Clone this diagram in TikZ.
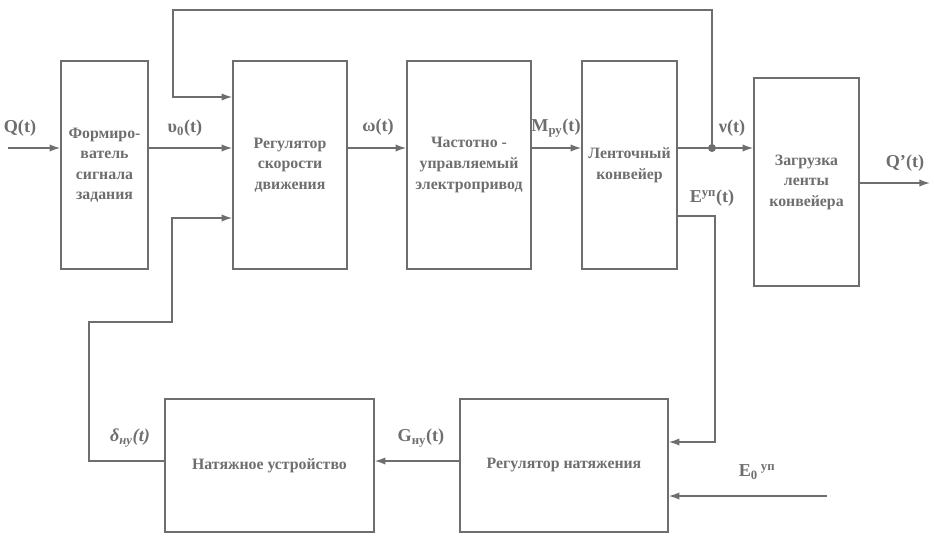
\documentclass[tikz,border=0pt]{standalone}
\usepackage{fontspec}
\setmainfont{Liberation Serif}
\usetikzlibrary{arrows.meta}
\definecolor{ink}{HTML}{6E6E6E}
\newcommand{\pxu}{0.3mm}

\begin{document}
\begin{tikzpicture}[x=0.3mm, y=-0.3mm,
    blk/.style={draw=ink, line width=1.3pt, align=center, font=\bfseries\fontsize{13.5}{17.5}\selectfont, text=ink, inner sep=2pt},
    arr/.style={draw=ink, line width=1.3pt, -{Latex[length=3.2mm, width=2.2mm]}},
    lbl/.style={font=\bfseries\fontsize{15.5}{17}\selectfont, text=ink, inner sep=1pt}]
        \useasboundingbox (0,0) rectangle (935,538);

        % blocks
        \node[blk, minimum width=87*\pxu, minimum height=208*\pxu] (fsz) at (104.5,165) {Формиро-\\ватель\\сигнала\\задания};
        \node[blk, minimum width=114*\pxu, minimum height=208*\pxu] (rsd) at (290,165) {Регулятор\\скорости\\движения};
        \node[blk, minimum width=124*\pxu, minimum height=208*\pxu] (chep) at (469,165) {Частотно -\\управляемый\\электропривод};
        \node[blk, minimum width=95*\pxu, minimum height=208*\pxu] (lk) at (629.5,165) {Ленточный\\конвейер};
        \node[blk, minimum width=105*\pxu, minimum height=208*\pxu] (zlk) at (806.5,182) {Загрузка\\ленты\\конвейера};
        \node[blk, minimum width=209*\pxu, minimum height=133*\pxu] (nu) at (269.5,465.5) {Натяжное устройство};
        \node[blk, minimum width=208*\pxu, minimum height=133*\pxu] (rn) at (564,465.5) {Регулятор натяжения};

        % helper coordinates
        \coordinate (ml) at (0,148);
        \coordinate (qin) at (8,148);
        \coordinate (dot) at (712,148);
        \coordinate (tp) at (173,10);
        \coordinate (yfb) at (0,97);
        \coordinate (yg) at (0,461);
        \coordinate (c1) at (89,322);
        \coordinate (c2) at (172,218);
        \coordinate (ye) at (0,216);
        \coordinate (ec) at (715,442);
        \coordinate (e0) at (827,496);
        \coordinate (qout) at (930,183);

        % forward path
        \draw[arr] (qin) -- (fsz.west |- ml);
        \draw[arr] (fsz.east |- ml) -- (rsd.west |- ml);
        \draw[arr] (rsd.east |- ml) -- (chep.west |- ml);
        \draw[arr] (chep.east |- ml) -- (lk.west |- ml);
        \draw[arr] (lk.east |- ml) -- (zlk.west |- ml);
        \draw[arr] (zlk.east |- qout) -- (qout);
        \fill[ink] (dot) circle (1.2mm);

        % feedback loops
        \draw[arr] (dot) |- (tp) |- (rsd.west |- yfb);
        \draw[arr] (nu.west |- yg) -| (c1) -| (c2) -- (rsd.west |- c2);
        \draw[arr] (lk.east |- ye) -| (ec) -- (rn.east |- ec);
        \draw[arr] (e0) -- (rn.east |- e0);
        \draw[arr] (rn.west |- yg) -- (nu.east |- yg);

        % signal labels
        \node[lbl] (lq) at (20,128) {Q(t)};
        \node[lbl] (lv0) at (185,128) {υ\textsubscript{0}(t)};
        \node[lbl] (lw) at (378,127) {ω(t)};
        \node[lbl] (lm) at (556,128) {M\textsubscript{ру}(t)};
        \node[lbl] (lnu) at (732,128) {ν(t)};
        \node[lbl] (le) at (712,198) {E\textsuperscript{уп}(t)};
        \node[lbl] (lqo) at (905,163) {Q'(t)};
        \node[lbl] (lg) at (421,438) {G\textsubscript{ну}(t)};
        \node[lbl] (ld) at (130,438) {\textit{δ\textsubscript{ну}(t)}};
        \node[lbl] (le0) at (757,472) {E\textsubscript{0}\,\textsuperscript{уп}};
\end{tikzpicture}
\end{document}
